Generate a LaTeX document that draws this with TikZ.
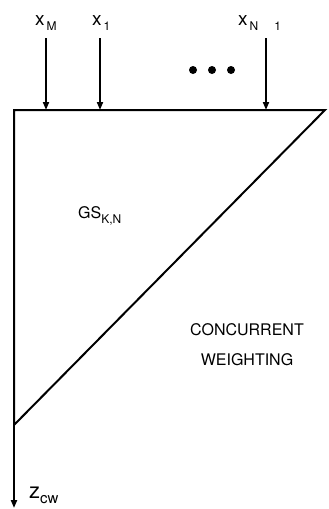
\documentclass[tikz,border=0pt]{standalone}
\usepackage{fontspec}
\setmainfont{TeX Gyre Heros}
\usetikzlibrary{arrows.meta,positioning,calc}
% lowered subscript in the text font
\newcommand{\lowsub}[1]{\raisebox{-5pt}{\fontsize{12}{14}\selectfont #1}}

\begin{document}
\begin{tikzpicture}[x=1pt,y=-1pt,
  lbl/.style={font=\fontsize{16}{18}\selectfont, inner sep=0pt},
  xlbl/.style={font=\fontsize{19}{21}\selectfont, inner sep=0pt, anchor=base west},
  inarrow/.style={-{Triangle[length=8pt,width=6pt]}, line width=1.8pt}]
\useasboundingbox (0,0) rectangle (329,509);
% Corners of the array
\coordinate (tl) at (14,110);
\coordinate (tr) at (325,110);
\coordinate (bl) at (14,425);
\coordinate (out) at (14,508);
% Frame and diagonal
\draw[line width=2pt, line join=miter] (bl) -- (tl) -- (tr) -- cycle;
\draw[-{Triangle[length=8pt,width=6pt]}, line width=2pt] (bl) -- (out);
% Inputs on top
\foreach \x/\lx/\n/\t in {46/35/xm/{x\lowsub{\,M}},100/92/xa/{x\lowsub{\,1}},266/238/xn/{x\lowsub{\,N\hspace{16pt}1}}} {
  \node[xlbl] (\n) at (\lx,25) {\t};
  \coordinate (\n in) at (\x,110);
  \draw[inarrow] (\x,38) -- (\n in);
}
% Dots
\foreach \x in {193,212,231} {
  \fill (\x,70) circle (4pt);
}
% Region labels
\node[lbl, anchor=base west] (gs) at (78,218) {GS\lowsub{K,N}};
\node[lbl, align=center] (cw) at (247,345) {CONCURRENT\\[12pt]WEIGHTING};
\node[lbl, anchor=base west, font=\fontsize{22}{24}\selectfont] (z) at (29,498) {z\lowsub{\fontsize{15}{17}\selectfont cw}};
\end{tikzpicture}
\end{document}
